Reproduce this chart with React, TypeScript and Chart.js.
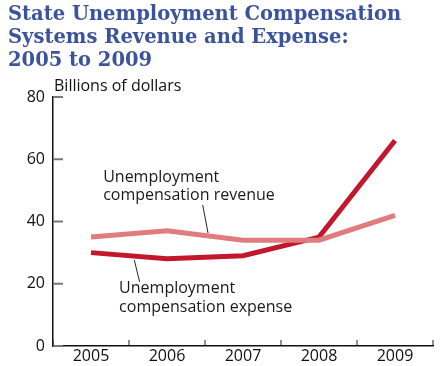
import React, { useEffect, useRef } from "react";
import { Chart, registerables } from "chart.js";

Chart.register(...registerables);

const years = ["2005", "2006", "2007", "2008", "2009"];
const revenue = [35, 37, 34, 34, 42];
const expense = [30, 28, 29, 35, 66];
const yTicks = [0, 20, 40, 60, 80];

const titleLines = [
  "State Unemployment Compensation",
  "Systems Revenue and Expense:",
  "2005 to 2009",
];
const unitLabel = "Billions of dollars";

// annotation text anchored in data space (category index, value)
const revenueNote = { lines: ["Unemployment", "compensation revenue"], x: 0.16, y: [52.7, 46.9], leader: [[1.47, 45.3], [1.54, 36.3]] };
const expenseNote = { lines: ["Unemployment", "compensation expense"], x: 0.37, y: [17.0, 10.9], leader: [[0.57, 27.6], [0.64, 20.6]] };

const SANS = "'Open Sans', 'Noto Sans', sans-serif";

export default function App() {
  const ref = useRef<HTMLCanvasElement | null>(null);
  useEffect(() => {
    document.body.style.margin = "0";
    const canvas = ref.current!;
    const decor = {
      id: "decor",
      afterDraw(chart: any) {
        const ctx = chart.ctx;
        const xs = chart.scales.x;
        const ys = chart.scales.y;
        const area = chart.chartArea;
        ctx.save();
        // title
        ctx.fillStyle = "#3b539c";
        ctx.font = "bold 19.5px 'DejaVu Serif', serif";
        ctx.textBaseline = "alphabetic";
        ctx.textAlign = "left";
        titleLines.forEach((t, i) => ctx.fillText(t, 8, 20 + i * 23));
        // unit label
        ctx.fillStyle = "#111";
        ctx.font = "16px " + SANS;
        ctx.fillText(unitLabel, area.left + 1, 91);
        // y ticks inward
        ctx.strokeStyle = "#777";
        ctx.lineWidth = 2;
        yTicks.forEach((v) => {
          const y = ys.getPixelForValue(v);
          ctx.beginPath();
          ctx.moveTo(area.left, y);
          ctx.lineTo(area.left + 10, y);
          ctx.stroke();
        });
        // x ticks inward at category boundaries
        ctx.strokeStyle = "#222";
        ctx.lineWidth = 1;
        for (let i = 0; i <= years.length; i++) {
          const x = xs.getPixelForValue(i - 0.5);
          ctx.beginPath();
          ctx.moveTo(x, area.bottom);
          ctx.lineTo(x, area.bottom - 6);
          ctx.stroke();
        }
        // annotations
        ctx.fillStyle = "#1a1a1a";
        ctx.font = "16px " + SANS;
        [revenueNote, expenseNote].forEach((n) => {
          const x = xs.getPixelForValue(n.x);
          n.lines.forEach((t, i) => ctx.fillText(t, x, ys.getPixelForValue(n.y[i])));
          ctx.strokeStyle = "#222";
          ctx.lineWidth = 1;
          ctx.beginPath();
          ctx.moveTo(xs.getPixelForValue(n.leader[0][0]), ys.getPixelForValue(n.leader[0][1]));
          ctx.lineTo(xs.getPixelForValue(n.leader[1][0]), ys.getPixelForValue(n.leader[1][1]));
          ctx.stroke();
        });
        ctx.restore();
      },
    };
    const chart = new Chart(canvas, {
      type: "line",
      data: {
        labels: years,
        datasets: [
          { label: "Unemployment compensation revenue", data: revenue, borderColor: "#e07b7e", borderWidth: 5, pointRadius: 0, borderCapStyle: "butt", tension: 0 },
          { label: "Unemployment compensation expense", data: expense, borderColor: "#c2182e", borderWidth: 5, pointRadius: 0, borderCapStyle: "butt", tension: 0 },
        ],
      },
      options: {
        animation: false,
        responsive: false,
        layout: { padding: { top: 97, right: 8, left: 0, bottom: 0 } },
        plugins: { legend: { display: false }, title: { display: false }, tooltip: { enabled: false } },
        scales: {
          x: {
            offset: true,
            grid: { display: false, drawTicks: false },
            border: { color: "#111", width: 1.5 },
            ticks: { color: "#111", font: { family: SANS, size: 16 }, padding: 1, maxRotation: 0 },
            afterFit: (s: any) => { s.height = 20; },
          },
          y: {
            min: 0,
            max: 80,
            grid: { display: false, drawTicks: false },
            border: { color: "#111", width: 1.5 },
            ticks: { stepSize: 20, color: "#111", font: { family: SANS, size: 16 }, padding: 8 },
            afterFit: (s: any) => { s.width = 53; },
          },
        },
      },
      plugins: [decor],
    });
    return () => chart.destroy();
  }, []);
  return <canvas ref={ref} width={441} height={366} style={{ display: "block" }} />;
}
